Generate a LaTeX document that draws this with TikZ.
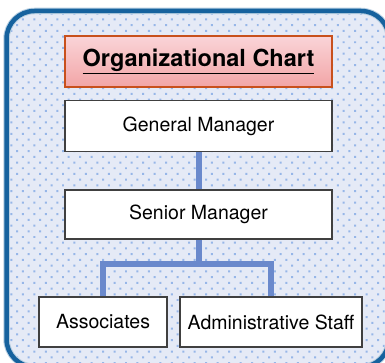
\documentclass[tikz,border=0pt]{standalone}
\usepackage{fontspec}
\setmainfont{TeX Gyre Heros}
\usepackage{xcolor}
\usepackage{tikz}
\usetikzlibrary{positioning}
\usetikzlibrary{patterns.meta}
\definecolor{framecol}{RGB}{22,98,158}
\definecolor{paperbg}{RGB}{229,234,246}
\definecolor{dotcol}{RGB}{150,182,232}
\definecolor{linkcol}{RGB}{106,137,204}
\definecolor{titleline}{RGB}{200,80,28}
\definecolor{titletop}{RGB}{250,212,216}
\definecolor{titlebot}{RGB}{242,165,166}
\pgfdeclarelayer{framelayer}
\pgfdeclarelayer{edgelayer}
\pgfdeclarelayer{nodelayer}
\pgfsetlayers{framelayer,edgelayer,nodelayer,main}
\tikzset{
    none/.style = {inner sep=0pt},
    post/.style = {draw=black!75, line width=1.2pt, fill=white, inner sep=0pt,
                   font=\fontsize{19.5}{22}\selectfont},
    chart title/.style = {draw=titleline, line width=1.6pt, top color=titletop,
                   bottom color=titlebot, inner sep=0pt,
                   font=\fontsize{23.5}{27}\selectfont\bfseries},
    link/.style = {draw=linkcol, line width=6pt}
}

\begin{document}
\begin{tikzpicture}[x=1pt, y=-1pt]
    \useasboundingbox (0, 0) rectangle (385, 363);
    \clip (0, 0) rectangle (385, 363);
    \begin{pgfonlayer}{framelayer}
        % dotted paper with the blue frame
        \fill [paperbg, rounded corners=28pt] (6.5, 11) rectangle (389, 367);
        \fill [pattern={Dots[distance=8.1pt, angle=45, radius=1.4pt]}, pattern color=dotcol,
               rounded corners=28pt] (6.5, 11) rectangle (389, 367);
        \draw [framecol!30, line width=6.5pt, rounded corners=28pt] (6.5, 11) rectangle (389, 367);
        \draw [framecol, line width=4.5pt, rounded corners=28pt] (6.5, 11) rectangle (389, 367);
    \end{pgfonlayer}
    \begin{pgfonlayer}{nodelayer}
        \node [style=chart title, minimum width=267pt, minimum height=51pt] (0) at (198.5, 61.5) {\underline{Organizational Chart}};
        \node [style=post, minimum width=267pt, minimum height=51pt] (1) at (198.5, 126) {General Manager};
        \node [style=post, minimum width=267pt, minimum height=49pt] (2) at (198.5, 214.5) {Senior Manager};
        \node [style=post, minimum width=128pt, minimum height=50pt] (3) at (103, 322) {Associates};
        \node [style=post, minimum width=182pt, minimum height=50pt] (4) at (271, 322) {Administrative Staff};
        \node [style=none] (5) at (198.5, 263.5) {};
    \end{pgfonlayer}
    \begin{pgfonlayer}{edgelayer}
        \draw [style=link] (1.center) to (2.center);
        \draw [style=link] (2.center) to (5.center);
        \draw [style=link] (3.center) |- (5.center) -| (4.center);
    \end{pgfonlayer}
\end{tikzpicture}
\end{document}
